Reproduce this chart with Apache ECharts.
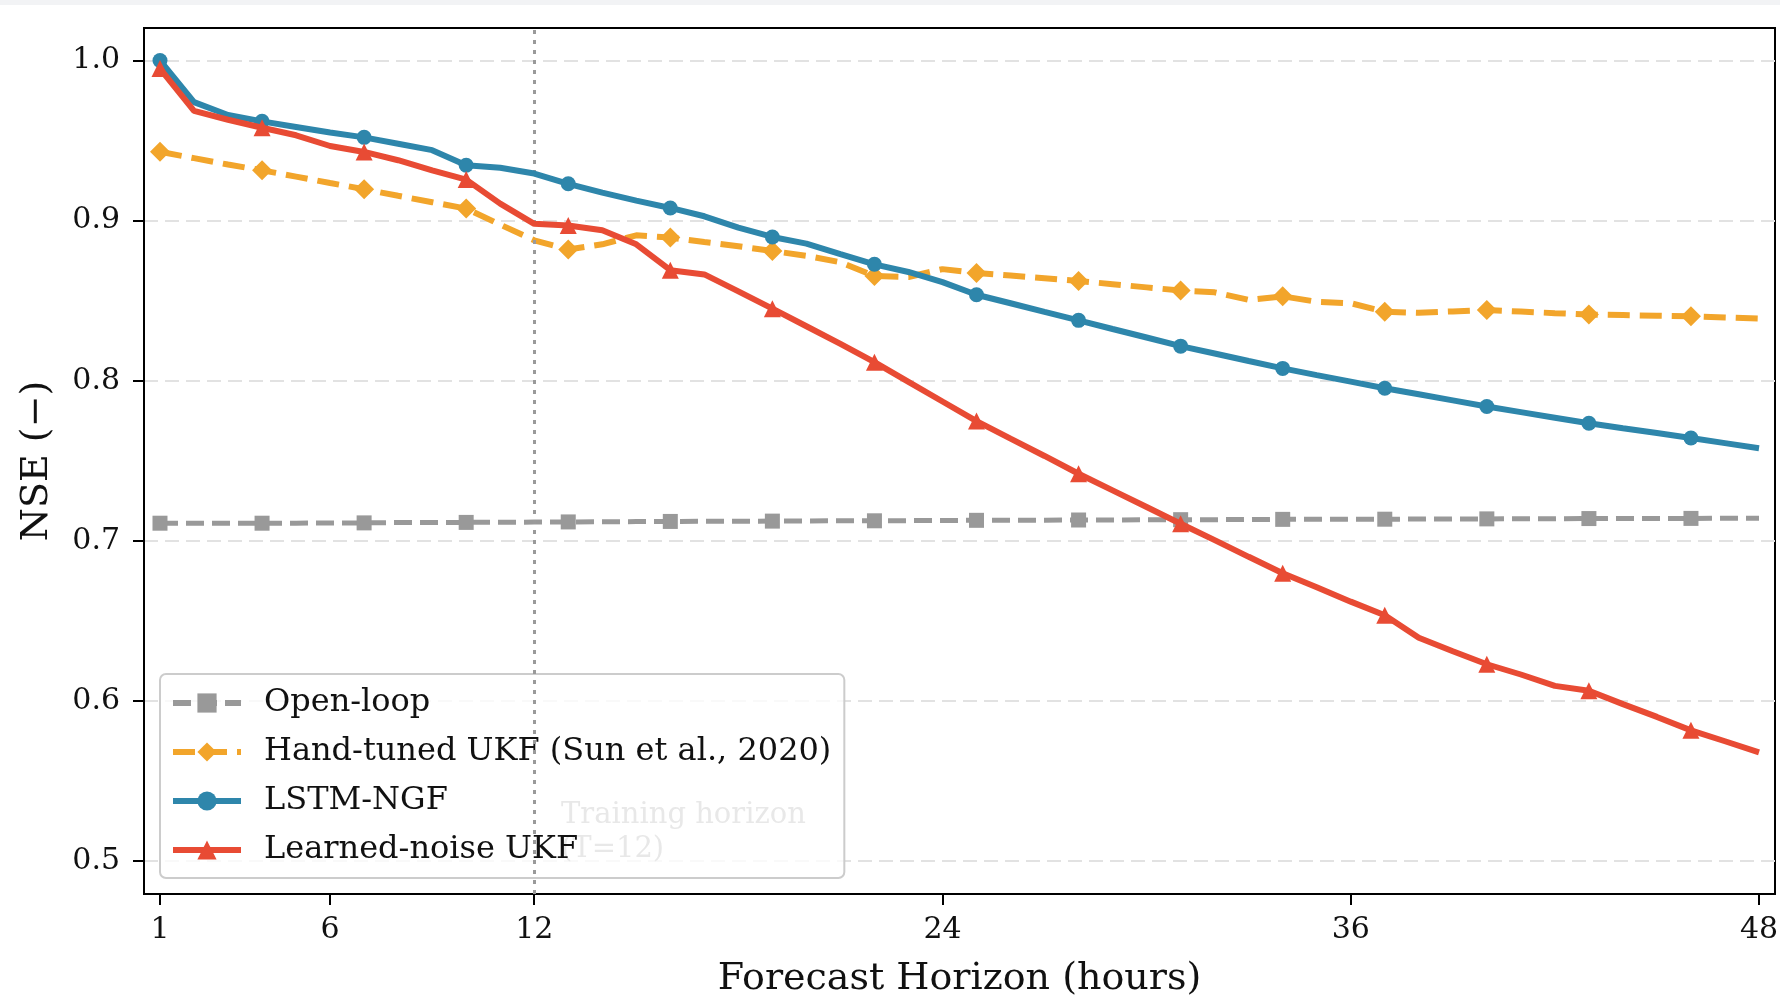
<!DOCTYPE html>
<html>
<head>
<meta charset="utf-8">
<script src="https://cdn.jsdelivr.net/npm/echarts@6/dist/echarts.min.js"></script>
<style>
  html, body { margin: 0; padding: 0; background: #fff; }
  #chart { width: 1780px; height: 998px; }
</style>
</head>
<body>
<div id="chart"></div>
<script>
// forecast horizon, hours
const hours = [1, 2, 3, 4, 5, 6, 7, 8, 9, 10, 11, 12, 13, 14, 15, 16, 17, 18, 19, 20, 21, 22, 23, 24,
  25, 26, 27, 28, 29, 30, 31, 32, 33, 34, 35, 36, 37, 38, 39, 40, 41, 42, 43, 44, 45, 46, 47, 48];

const openLoop = [0.711, 0.711, 0.711, 0.711, 0.711, 0.7112, 0.7112, 0.7114, 0.7114, 0.7115, 0.7116, 0.7117,
  0.7118, 0.7119, 0.712, 0.7121, 0.7122, 0.7122, 0.7123, 0.7124, 0.7125, 0.7125, 0.7126, 0.7127,
  0.7128, 0.7128, 0.7129, 0.713, 0.713, 0.7131, 0.7132, 0.7132, 0.7133, 0.7134, 0.7134, 0.7135,
  0.7135, 0.7136, 0.7137, 0.7137, 0.7138, 0.7138, 0.7139, 0.714, 0.714, 0.714, 0.7141, 0.7141];

const handTuned = [0.943, 0.939, 0.935, 0.9314, 0.9275, 0.9235, 0.9196, 0.9155, 0.9115, 0.9075, 0.8975, 0.8877,
  0.882, 0.8852, 0.8908, 0.8894, 0.8866, 0.884, 0.881, 0.878, 0.874, 0.8654, 0.8648, 0.8697,
  0.8673, 0.8657, 0.864, 0.8623, 0.8603, 0.8583, 0.8563, 0.8552, 0.8505, 0.8527, 0.8493, 0.8484,
  0.843, 0.8424, 0.8433, 0.8441, 0.8432, 0.8422, 0.8413, 0.841, 0.8406, 0.8403, 0.8395, 0.8388];

const lstmNgf = [1.0, 0.974, 0.966, 0.962, 0.9585, 0.955, 0.952, 0.948, 0.944, 0.9346, 0.933, 0.9294,
  0.923, 0.9175, 0.9125, 0.9079, 0.9027, 0.8956, 0.8898, 0.8856, 0.879, 0.8727, 0.8679, 0.8616,
  0.8537, 0.8484, 0.843, 0.8377, 0.8323, 0.827, 0.8216, 0.817, 0.8123, 0.8077, 0.8035, 0.7994,
  0.7953, 0.7915, 0.7877, 0.7839, 0.7804, 0.7769, 0.7734, 0.7703, 0.7673, 0.7642, 0.761, 0.7578];

const learnedNoise = [0.995, 0.9685, 0.963, 0.958, 0.9533, 0.9466, 0.9429, 0.9377, 0.9314, 0.9256, 0.9106, 0.898,
  0.897, 0.894, 0.8852, 0.869, 0.8664, 0.8558, 0.845, 0.834, 0.823, 0.8116, 0.7993, 0.787,
  0.7748, 0.7638, 0.753, 0.7419, 0.7315, 0.7211, 0.7107, 0.7004, 0.69, 0.6797, 0.671, 0.662,
  0.6535, 0.6394, 0.631, 0.6229, 0.6165, 0.6094, 0.6064, 0.598, 0.59, 0.5816, 0.5748, 0.5679];

const xTicks = [1, 6, 12, 24, 36, 48];
const yTicks = [0.5, 0.6, 0.7, 0.8, 0.9, 1.0];
const trainingHorizon = 12;

const FONT = "DejaVu Serif";
const MARK_EVERY = 3;

// markers only every 3rd hour, like markevery=3
function withMarkers(vals) {
  return hours.map((h, i) => {
    if (i % MARK_EVERY === 0) return [h, vals[i]];
    return { value: [h, vals[i]], symbol: "none" };
  });
}

let myChart = echarts.init(document.getElementById("chart"));

let option = {
  backgroundColor: "#fff",
  animation: false,
  grid: {
    left: 144,
    right: 5,
    top: 28,
    bottom: 104,
    outerBoundsMode: "none",
    show: true,
    borderColor: "#000",
    borderWidth: 2,
  },
  graphic: [
    { type: "rect", left: 0, top: 0, z: 0, shape: { width: 1780, height: 5 }, style: { fill: "#f2f3f5" } },
    {
      type: "text",
      left: 561,
      top: 798,
      z: 1,
      style: {
        text: "Training horizon\n(T=12)",
        font: "29px 'DejaVu Serif'",
        fill: "#8a8a8a",
        lineHeight: 34,
      },
    },
  ],
  legend: {
    orient: "vertical",
    left: 160,
    top: 674,
    padding: [9, 13, 8, 10],
    itemWidth: 68,
    itemHeight: 24,
    itemGap: 9,
    backgroundColor: "rgba(255,255,255,0.8)",
    borderColor: "#cccccc",
    borderWidth: 2,
    borderRadius: 6,
    lineStyle: { width: 6 },
    textStyle: {
      fontFamily: FONT,
      fontSize: 32,
      color: "#111",
      lineHeight: 40,
      padding: [0, 0, 0, 18],
    },
    data: ["Open-loop", "Hand-tuned UKF (Sun et al., 2020)", "LSTM-NGF", "Learned-noise UKF"],
  },
  xAxis: {
    type: "value",
    min: 0.53,
    max: 48.47,
    name: "Forecast Horizon (hours)",
    nameLocation: "middle",
    nameGap: 66,
    nameTextStyle: { fontFamily: FONT, fontSize: 38, color: "#111" },
    axisLine: { show: true, lineStyle: { color: "#000", width: 2 } },
    axisTick: { show: true, length: 11, lineStyle: { color: "#000", width: 2 }, customValues: xTicks },
    axisLabel: {
      fontFamily: FONT,
      fontSize: 30,
      lineHeight: 30,
      color: "#111",
      margin: 21,
      verticalAlign: "top",
      customValues: xTicks,
    },
    splitLine: { show: false },
  },
  yAxis: {
    type: "value",
    min: 0.4794,
    max: 1.0203,
    name: "NSE (\u2212)",
    nameLocation: "middle",
    nameRotate: 90,
    nameGap: 88,
    nameTextStyle: { fontFamily: FONT, fontSize: 38, color: "#111" },
    axisLine: { show: true, lineStyle: { color: "#000", width: 2 } },
    axisTick: { show: true, length: 11, lineStyle: { color: "#000", width: 2 }, customValues: yTicks },
    axisLabel: {
      fontFamily: FONT,
      fontSize: 30,
      color: "#111",
      margin: 24,
      customValues: yTicks,
      formatter: (v) => v.toFixed(1),
    },
    splitLine: { show: true, lineStyle: { color: "#e2e2e2", width: 2, type: [14, 7] } },
  },
  series: [
    {
      name: "Open-loop",
      type: "line",
      z: 3,
      data: withMarkers(openLoop),
      symbol: "rect",
      symbolSize: 15,
      showAllSymbol: true,
      color: "#999999",
      lineStyle: { color: "#999999", width: 5, type: [18, 8] },
      itemStyle: { color: "#999999" },
      markLine: {
        silent: true,
        symbol: "none",
        label: { show: false },
        lineStyle: { color: "#9a9a9a", width: 3, type: [4, 6] },
        data: [{ xAxis: trainingHorizon }],
      },
    },
    {
      name: "Hand-tuned UKF (Sun et al., 2020)",
      type: "line",
      z: 4,
      data: withMarkers(handTuned),
      symbol: "diamond",
      symbolSize: 20,
      showAllSymbol: true,
      color: "#f2a52b",
      lineStyle: { color: "#f2a52b", width: 6, type: [22, 10] },
      itemStyle: { color: "#f2a52b" },
    },
    {
      name: "LSTM-NGF",
      type: "line",
      z: 5,
      data: withMarkers(lstmNgf),
      symbol: "circle",
      symbolSize: 15,
      showAllSymbol: true,
      color: "#2e86ab",
      lineStyle: { color: "#2e86ab", width: 6 },
      itemStyle: { color: "#2e86ab" },
    },
    {
      name: "Learned-noise UKF",
      type: "line",
      z: 6,
      data: withMarkers(learnedNoise),
      symbol: "triangle",
      symbolSize: 17,
      showAllSymbol: true,
      color: "#e84b34",
      lineStyle: { color: "#e84b34", width: 6 },
      itemStyle: { color: "#e84b34" },
    },
  ],
};
myChart.setOption(option);
</script>
</body>
</html>
